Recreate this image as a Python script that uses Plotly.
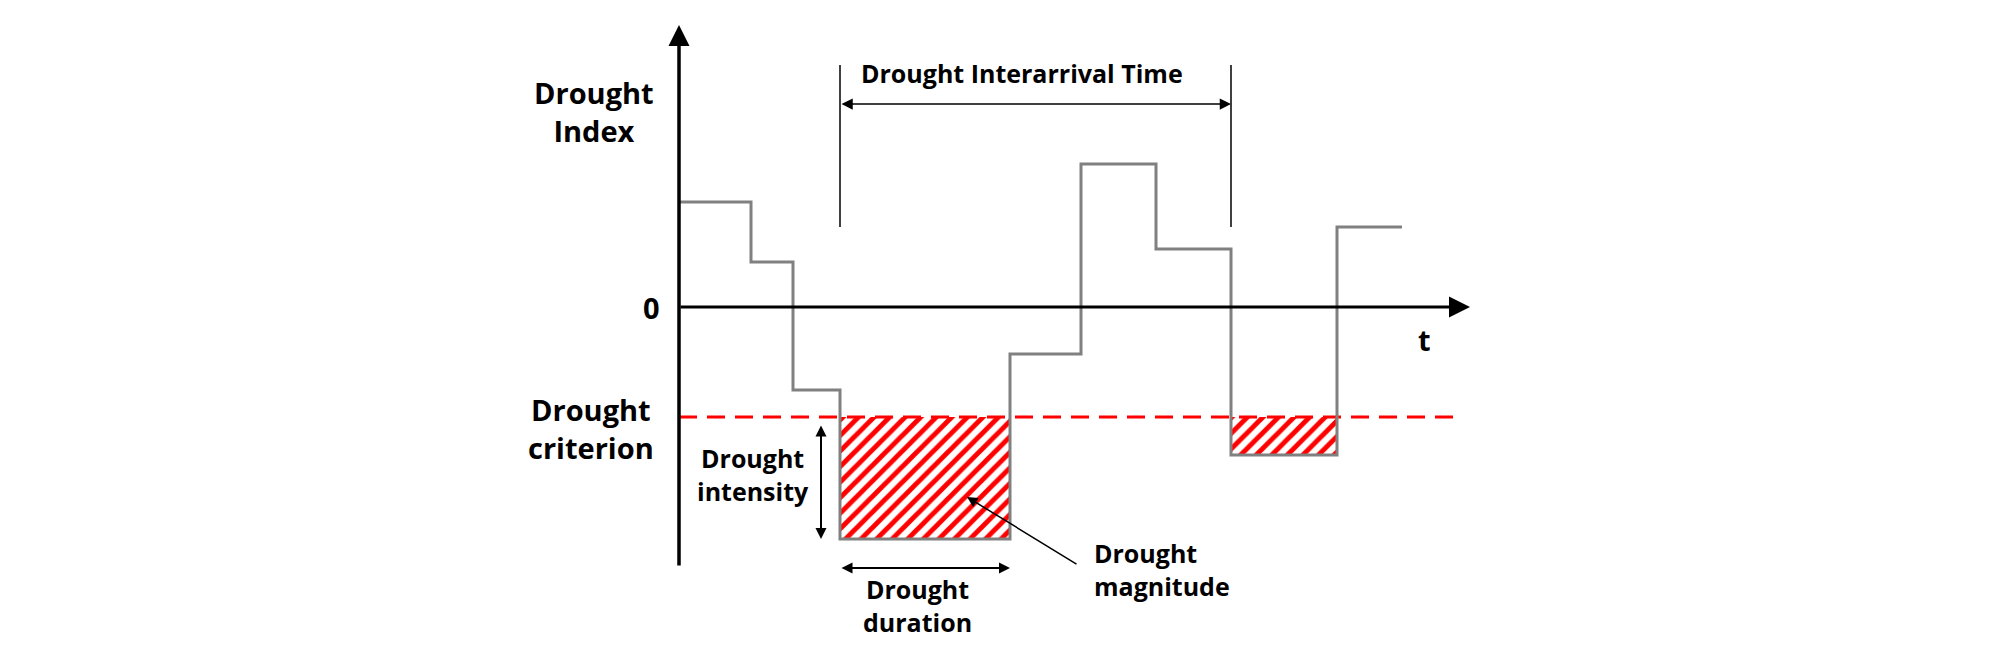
import plotly.graph_objects as go

# drought index as a step series (time in arbitrary units, index in std units)
step_t = [0, 7.2, 11.4, 16.1, 33.1, 40.2, 47.7, 55.2, 65.8, 72.3]
step_v = [1.05, 0.45, -0.83, -2.32, -0.47, 1.43, 0.58, -1.48, 0.80]
criterion = -1.10

# drought events (index below the criterion)
event_start = [16.1, 55.2]
event_end = [33.1, 65.8]
event_min = [-2.32, -1.48]

# axis extents
t_axis_end = 79.1
v_axis_min = -2.60
v_axis_max = 2.82
criterion_end = 78.1

# interarrival markers
marker_low = 0.80
marker_high = 2.42
interarrival_level = 2.03

_RED = "#ff0000"
_GREY = "#808080"
_FONT = "Open Sans"

fig = go.Figure()

# hatched drought areas
for t0, t1, vmin in zip(event_start, event_end, event_min):
    fig.add_trace(go.Scatter(
        x=[t0, t1, t1, t0, t0],
        y=[criterion, criterion, vmin, vmin, criterion],
        mode="lines", fill="toself",
        line=dict(width=0),
        fillcolor="white",
        fillpattern=dict(shape="/", fgcolor=_RED, bgcolor="white",
                         fgopacity=1, size=11, solidity=0.45),
        hoverinfo="skip", showlegend=False,
    ))

# drought criterion
fig.add_trace(go.Scatter(
    x=[0, criterion_end], y=[criterion, criterion],
    mode="lines", line=dict(color=_RED, width=3, dash="18px,10px"),
    hoverinfo="skip", showlegend=False,
))

# drought index
fig.add_trace(go.Scatter(
    x=step_t, y=step_v + [step_v[-1]],
    mode="lines", line=dict(color=_GREY, width=3, shape="hv"),
    hoverinfo="skip", showlegend=False,
))

# interarrival markers
mx, my = [], []
for t0 in event_start:
    mx += [t0, t0, None]
    my += [marker_low, marker_high, None]
fig.add_trace(go.Scatter(
    x=mx, y=my, mode="lines", line=dict(color="black", width=1.5),
    hoverinfo="skip", showlegend=False,
))


def arrow(x, y, ax, ay, width, size, both=False):
    fig.add_annotation(
        x=x, y=y, ax=ax, ay=ay, xref="x", yref="y", axref="x", ayref="y",
        text="", showarrow=True, arrowhead=2, arrowsize=size,
        arrowwidth=width, arrowcolor="black",
        arrowside="end+start" if both else "end",
        startarrowhead=2, startarrowsize=size,
    )


# axes
arrow(0, v_axis_max, 0, v_axis_min, 3.5, 1.2)
arrow(t_axis_end, 0, 0, 0, 3, 1.4)

# annotation arrows
arrow(event_start[1], interarrival_level, event_start[0], interarrival_level, 1.5, 1.5, both=True)
arrow(14.2, event_min[0], 14.2, criterion - 0.07, 2, 1.1, both=True)
arrow(event_end[0], -2.61, event_start[0], -2.61, 2, 1.1, both=True)
arrow(28.8, -1.90, 39.9, -2.58, 1.5, 1.4)


def label(x, y, text, size, xanchor="center", align="center"):
    fig.add_annotation(
        x=x, y=y, xref="x", yref="y", text=text, showarrow=False,
        xanchor=xanchor, yanchor="middle", align=align,
        font=dict(family=_FONT, size=size, color="black", weight="bold"),
    )


label(-8.5, 1.96, "Drought<br>Index", 29)
label(-8.8, -1.21, "Drought<br>criterion", 29)
label(-2.8, 0, "0", 29)
label(74.5, -0.32, "t", 29)
label(34.3, 2.34, "Drought Interarrival Time", 25)
label(7.4, -1.67, "Drought<br>intensity", 25)
label(23.8, -2.98, "Drought<br>duration", 25)
label(41.3, -2.62, "Drought<br>magnitude", 25, xanchor="left", align="left")

fig.update_layout(
    width=2008, height=659,
    margin=dict(l=0, r=0, t=0, b=0),
    paper_bgcolor="white", plot_bgcolor="white",
    xaxis=dict(range=[-67.9, 132.9], visible=False, fixedrange=True),
    yaxis=dict(range=[-3.52, 3.07], visible=False, fixedrange=True),
)

fig.write_html("out.html", config={"displayModeBar": False},
               post_script="document.body.style.margin='0';")
